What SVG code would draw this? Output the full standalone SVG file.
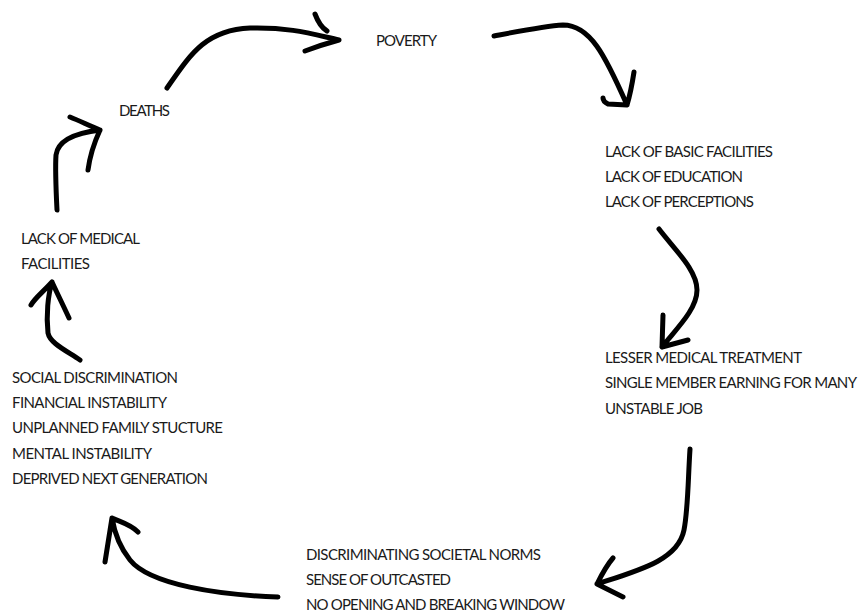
<svg xmlns="http://www.w3.org/2000/svg" width="858" height="614" viewBox="0 0 858 614">
<style>
text{font-family:Lato,"Open Sans","Liberation Sans",sans-serif;font-size:15px;fill:#1a1a1a}
.a{fill:none;stroke:#000;stroke-width:5;stroke-linecap:round;stroke-linejoin:round}
</style>
<rect width="858" height="614" fill="#fff"/>
<g id="poverty"><text x="376" y="46" textLength="61">POVERTY</text></g>
<g id="deaths"><text x="119" y="116" textLength="51">DEATHS</text></g>
<g id="lack-basic">
<text x="605" y="157" textLength="168">LACK OF BASIC FACILITIES</text>
<text x="605" y="182" textLength="138">LACK OF EDUCATION</text>
<text x="605" y="207" textLength="149">LACK OF PERCEPTIONS</text>
</g>
<g id="lesser-medical">
<text x="605" y="363" textLength="197">LESSER MEDICAL TREATMENT</text>
<text x="605" y="388" textLength="252">SINGLE MEMBER EARNING FOR MANY</text>
<text x="605" y="414" textLength="98">UNSTABLE JOB</text>
</g>
<g id="societal-norms">
<text x="306" y="560" textLength="235">DISCRIMINATING SOCIETAL NORMS</text>
<text x="306" y="585" textLength="145">SENSE OF OUTCASTED</text>
<text x="306" y="610" textLength="259">NO OPENING AND BREAKING WINDOW</text>
</g>
<g id="social-discrimination">
<text x="12" y="383" textLength="166">SOCIAL DISCRIMINATION</text>
<text x="12" y="408" textLength="155">FINANCIAL INSTABILITY</text>
<text x="12" y="433" textLength="211">UNPLANNED FAMILY STUCTURE</text>
<text x="12" y="459" textLength="140">MENTAL INSTABILITY</text>
<text x="12" y="484" textLength="196">DEPRIVED NEXT GENERATION</text>
</g>
<g id="lack-medical">
<text x="21" y="244" textLength="119">LACK OF MEDICAL</text>
<text x="21" y="269" textLength="69">FACILITIES</text>
</g>
<g id="connectors">
<path class="a" d="M167,88 C190,55 205,30 250,28 C290,27 312,34 339,40 M315,14 C318,22 322,28 327,31 M305,51 C318,46 328,43 339,40"/>
<path class="a" d="M494,36 C520,31 545,26 563,25 C590,25 605,55 627,105 M634,72 C632,85 630,95 627,105 L608,104 C604,102 603,100 603,98"/>
<path class="a" d="M659,229 C675,250 697,270 697,290 C697,310 675,330 662,347 M663,315 L662,347 L688,340"/>
<path class="a" d="M690,449 C688,480 688,510 684,530 C678,560 640,570 597,584 M613,558 C606,566 602,574 597,584 L623,597"/>
<path class="a" d="M278,597 C220,595 150,585 130,560 C118,545 114,530 112,518 M105,562 L112,518 C120,522 130,524 138,532"/>
<path class="a" d="M80,360 C65,350 50,343 48,333 C46,315 48,295 52,282 M31,305 C35,298 42,293 52,282 C58,295 63,305 69,318"/>
<path class="a" d="M57,210 C56,190 55,170 56,155 C58,140 75,133 100,130 M70,117 C80,121 90,126 100,130 C94,143 90,155 88,170"/>
</g>
</svg>
